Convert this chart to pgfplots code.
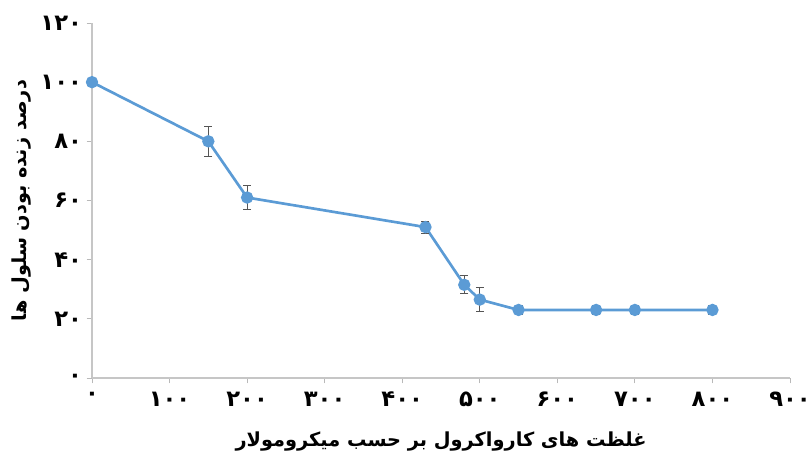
\documentclass[border=0pt]{standalone}
\usepackage{pgfplots}
\pgfplotsset{compat=1.18}
\usepackage{fontspec}
\setmainfont{DejaVu Sans}
\newfontfamily\arabicfont[Script=Arabic]{DejaVu Sans}
\TeXXeTstate=1
\definecolor{lineblue}{HTML}{5B9BD5}
\definecolor{errgray}{HTML}{555555}
\begin{document}
\begin{tikzpicture}
\path[use as bounding box] (-69pt,-60.75pt) rectangle (539.25pt,283.5pt);
\begin{axis}[at={(0,0)}, anchor=south west, scale only axis,
  width=523.5pt, height=266.25pt,
  xmin=0, xmax=900, ymin=0, ymax=120,
  clip=false,
  axis x line=bottom, axis y line=left,
  axis line style={-, gray!45, line width=0.8pt},
  xtick={0,100,200,300,400,500,600,700,800,900},
  xticklabels={۰,۱۰۰,۲۰۰,۳۰۰,۴۰۰,۵۰۰,۶۰۰,۷۰۰,۸۰۰,۹۰۰},
  ytick={0,20,40,60,80,100,120},
  yticklabels={۰,۲۰,۴۰,۶۰,۸۰,۱۰۰,۱۲۰},
  tick align=outside, major tick length=4pt,
  tick style={gray!55, line width=0.6pt},
  ticklabel style={font=\arabicfont\bfseries\fontsize{17}{19}\selectfont, black},
  xticklabel style={yshift=-3pt},
  xlabel={\arabicfont\beginR غلظت های کارواکرول بر حسب میکرومولار\endR},
  ylabel={\arabicfont\beginR درصد زنده بودن سلول ها\endR},
  label style={font=\arabicfont\bfseries\fontsize{14.5}{17}\selectfont},
  xlabel style={at={(axis description cs:0.5,0)}, anchor=center, yshift=-47.5pt},
  ylabel style={at={(axis description cs:-0.1003,0.5)}, anchor=center},
]
\addplot[color=lineblue, line width=2pt, mark=*, mark size=3.6pt,
  mark options={fill=lineblue, draw=lineblue},
  error bars/.cd, y dir=both, y explicit,
  error bar style={color=errgray, line width=0.8pt},
  error mark options={rotate=90, mark size=3pt, color=errgray, line width=0.8pt}]
  table[x=x, y=y, y error=e] {
x y e
0 100 0
150 80 5
200 61 4
430 51 2
480 31.5 3
500 26.5 4
550 23 1.5
650 23 1.5
700 23 1.5
800 23 1.5
};
\end{axis}
\end{tikzpicture}
\end{document}
